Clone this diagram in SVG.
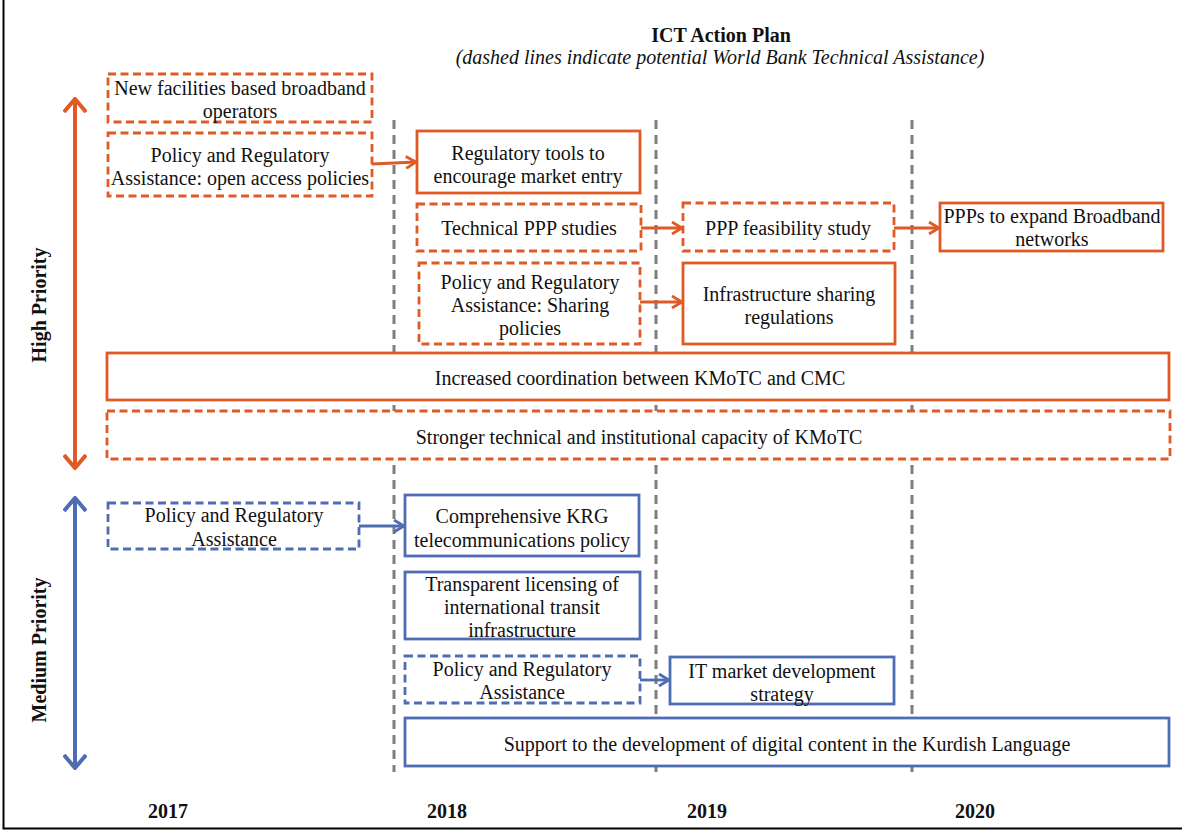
<svg xmlns="http://www.w3.org/2000/svg" width="1182" height="831" viewBox="0 0 1182 831">
<defs>
<style>
text{font-size:20px;fill:#111;text-anchor:middle}
.b{font-weight:bold}
.o{fill:#fff;stroke:#E05A26;stroke-width:2.8}
.u{fill:#fff;stroke:#4F6DB3;stroke-width:2.8}
.d{stroke-dasharray:8 4.5}
.g{stroke:#7f7f7f;stroke-width:3;stroke-dasharray:9 6;fill:none}
.co{stroke:#E05A26;stroke-width:2.8;fill:none}
.cu{stroke:#4F6DB3;stroke-width:2.8;fill:none}
</style>
<marker id="ao" viewBox="0 0 12 14" refX="11" refY="7" markerWidth="12" markerHeight="14" markerUnits="userSpaceOnUse" orient="auto"><path d="M1,1 L11,7 L1,13" fill="none" stroke="#E05A26" stroke-width="2.8"/></marker>
<marker id="au" viewBox="0 0 12 14" refX="11" refY="7" markerWidth="12" markerHeight="14" markerUnits="userSpaceOnUse" orient="auto"><path d="M1,1 L11,7 L1,13" fill="none" stroke="#4F6DB3" stroke-width="2.8"/></marker>
<marker id="bo" viewBox="0 0 16 24" refX="14" refY="12" markerWidth="16" markerHeight="24" markerUnits="userSpaceOnUse" orient="auto-start-reverse"><path d="M1,1 L14,12 L1,23" fill="none" stroke="#E05A26" stroke-width="4"/></marker>
<marker id="bu" viewBox="0 0 16 24" refX="14" refY="12" markerWidth="16" markerHeight="24" markerUnits="userSpaceOnUse" orient="auto-start-reverse"><path d="M1,1 L14,12 L1,23" fill="none" stroke="#4F6DB3" stroke-width="4"/></marker>
</defs>
<rect width="1182" height="831" fill="#fff"/>
<path d="M3.5,0 V828.5 H1182" fill="none" stroke="#000" stroke-width="2"/>
<g font-family="Liberation Serif, Times New Roman, serif">
<g id="title">
<text x="721" y="42" class="b">ICT Action Plan</text>
<text x="720" y="64" font-style="italic">(dashed lines indicate potential World Bank Technical Assistance)</text>
</g>
<g id="gridlines">
<line x1="394" y1="120" x2="394" y2="772" class="g"/>
<line x1="656" y1="120" x2="656" y2="772" class="g"/>
<line x1="912" y1="120" x2="912" y2="772" class="g"/>
</g>
<g id="axis">
<line x1="75" y1="99" x2="75" y2="468" stroke="#E05A26" stroke-width="4" marker-start="url(#bo)" marker-end="url(#bo)"/>
<line x1="75" y1="498" x2="75" y2="768" stroke="#4F6DB3" stroke-width="4" marker-start="url(#bu)" marker-end="url(#bu)"/>
<text class="b" transform="translate(46,305) rotate(-90)">High Priority</text>
<text class="b" transform="translate(46,650) rotate(-90)">Medium Priority</text>
<text x="168" y="818" class="b">2017</text>
<text x="447" y="818" class="b">2018</text>
<text x="707" y="818" class="b">2019</text>
<text x="975" y="818" class="b">2020</text>
</g>
<g id="n1"><rect x="108" y="74" width="264" height="48" class="o d"/><text x="240" y="95">New facilities based broadband</text><text x="240" y="118">operators</text></g>
<g id="n2"><rect x="108" y="133" width="264" height="63" class="o d"/><text x="240" y="162">Policy and Regulatory</text><text x="240" y="185">Assistance: open access policies</text></g>
<g id="n3"><rect x="417" y="131" width="223" height="62" class="o"/><text x="528" y="160">Regulatory tools to</text><text x="528" y="183">encourage market entry</text></g>
<g id="n4"><rect x="417" y="204" width="224" height="47" class="o d"/><text x="529" y="235">Technical PPP studies</text></g>
<g id="n5"><rect x="683" y="203" width="211" height="48" class="o d"/><text x="788" y="235">PPP feasibility study</text></g>
<g id="n6"><rect x="940" y="203" width="223" height="48" class="o"/><text x="1052" y="223">PPPs to expand Broadband</text><text x="1052" y="246">networks</text></g>
<g id="n7"><rect x="419" y="263" width="221" height="81" class="o d"/><text x="530" y="289">Policy and Regulatory</text><text x="530" y="312">Assistance: Sharing</text><text x="530" y="335">policies</text></g>
<g id="n8"><rect x="683" y="263" width="212" height="81" class="o"/><text x="789" y="301">Infrastructure sharing</text><text x="789" y="324">regulations</text></g>
<g id="n9"><rect x="107" y="353" width="1062" height="47" class="o"/><text x="640" y="385">Increased coordination between KMoTC and CMC</text></g>
<g id="n10"><rect x="107" y="411" width="1063" height="48" class="o d"/><text x="639" y="444">Stronger technical and institutional capacity of KMoTC</text></g>
<g id="n11"><rect x="108" y="503" width="251" height="46" class="u d"/><text x="234" y="522">Policy and Regulatory</text><text x="234" y="546">Assistance</text></g>
<g id="n12"><rect x="405" y="495" width="234" height="61" class="u"/><text x="522" y="523">Comprehensive KRG</text><text x="522" y="547">telecommunications policy</text></g>
<g id="n13"><rect x="405" y="572" width="235" height="67" class="u"/><text x="522" y="591">Transparent licensing of</text><text x="522" y="614">international transit</text><text x="522" y="637">infrastructure</text></g>
<g id="n14"><rect x="405" y="656" width="235" height="47" class="u d"/><text x="522" y="676">Policy and Regulatory</text><text x="522" y="699">Assistance</text></g>
<g id="n15"><rect x="670" y="657" width="224" height="47" class="u"/><text x="782" y="678">IT market development</text><text x="782" y="701">strategy</text></g>
<g id="n16"><rect x="405" y="718" width="764" height="48" class="u"/><text x="787" y="751">Support to the development of digital content in the Kurdish Language</text></g>
</g>
<g id="connectors">
<line x1="372" y1="164" x2="416" y2="162" class="co" marker-end="url(#ao)"/>
<line x1="641" y1="228" x2="682" y2="228" class="co" marker-end="url(#ao)"/>
<line x1="894" y1="228" x2="939" y2="228" class="co" marker-end="url(#ao)"/>
<line x1="640" y1="302" x2="682" y2="302" class="co" marker-end="url(#ao)"/>
<line x1="359" y1="526" x2="404" y2="526" class="cu" marker-end="url(#au)"/>
<line x1="640" y1="680" x2="669" y2="680" class="cu" marker-end="url(#au)"/>
</g>
</svg>
